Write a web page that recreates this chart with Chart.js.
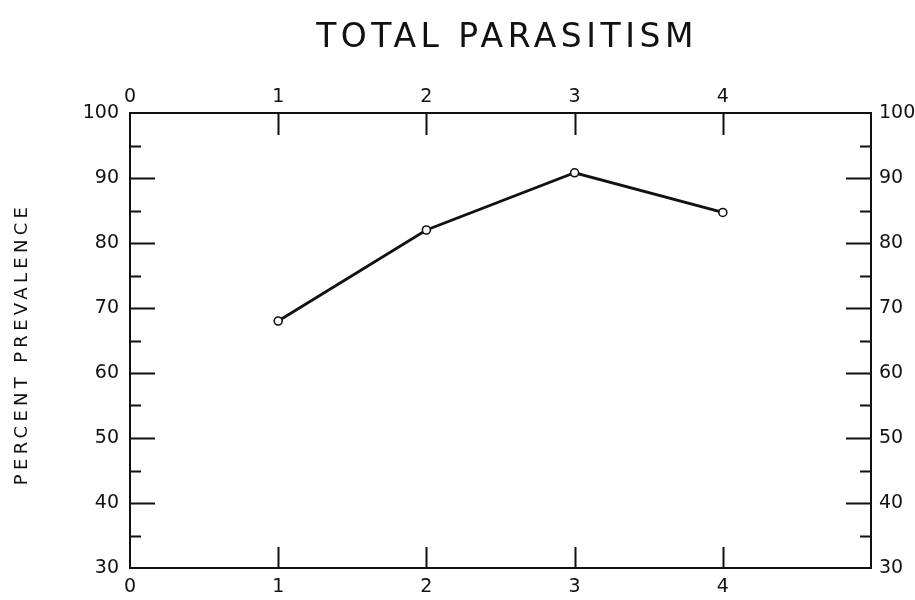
<!DOCTYPE html>
<html>
<head>
<meta charset="utf-8">
<script src="https://cdn.jsdelivr.net/npm/chart.js@4.4.1/dist/chart.umd.min.js"></script>
<style>
  html, body { margin: 0; padding: 0; background: #fff; }
  #wrap { width: 915px; height: 600px; }
</style>
</head>
<body>
<div id="wrap"><canvas id="parasiteChart" width="915" height="600"></canvas></div>
<script>
const titleText = "TOTAL PARASITISM";
const yLabel = "PERCENT PREVALENCE";
const groups = [1, 2, 3, 4];
const prevalence = [68, 82, 90.8, 84.7];
const xTickLabels = [0, 1, 2, 3, 4];
const yTickLabels = [30, 40, 50, 60, 70, 80, 90, 100];

const ink = '#111';
const fontFamily = '"DejaVu Sans", sans-serif';

// hand-drawn style ticks pointing into the frame, plus spaced-out titles
const frameTicks = {
  id: 'frameTicks',
  afterDraw(chart) {
    const c = chart.ctx;
    const a = chart.chartArea;
    const ys = chart.scales.y;
    const xs = chart.scales.x;
    c.save();
    c.strokeStyle = ink;
    c.lineWidth = 2;
    c.beginPath();
    for (let v = yTickLabels[0] + 5; v < yTickLabels[yTickLabels.length - 1]; v += 5) {
      const py = Math.round(ys.getPixelForValue(v)) + 0.5;
      const len = v % 10 === 0 ? 25 : 11;
      c.moveTo(a.left, py); c.lineTo(a.left + len, py);
      c.moveTo(a.right, py); c.lineTo(a.right - len, py);
    }
    xTickLabels.slice(1).forEach(v => {
      const px = Math.round(xs.getPixelForValue(v)) + 0.5;
      c.moveTo(px, a.top); c.lineTo(px, a.top + 22);
      c.moveTo(px, a.bottom); c.lineTo(px, a.bottom - 21);
    });
    c.stroke();

    c.fillStyle = ink;
    c.textAlign = 'center';
    c.textBaseline = 'middle';
    c.letterSpacing = '4.5px';
    c.font = '33px ' + fontFamily;
    c.fillText(titleText, 507, 38);

    c.translate(22, 346);
    c.rotate(-Math.PI / 2);
    c.letterSpacing = '4.3px';
    c.font = '18px ' + fontFamily;
    c.fillText(yLabel, 2, 0);
    c.restore();
  }
};

const tickFont = { family: fontFamily, size: 19 };
const border = { display: true, color: ink, width: 2 };

new Chart(document.getElementById('parasiteChart'), {
  type: 'line',
  data: {
    datasets: [{
      data: groups.map((g, i) => ({ x: g, y: prevalence[i] })),
      borderColor: ink,
      borderWidth: 2.8,
      pointRadius: 4,
      pointBorderWidth: 1.6,
      pointBackgroundColor: '#fff',
      pointBorderColor: ink,
      tension: 0
    }]
  },
  options: {
    responsive: false,
    animation: false,
    layout: { padding: 0 },
    plugins: { legend: { display: false }, tooltip: { enabled: false } },
    scales: {
      x: {
        type: 'linear', position: 'bottom', min: 0, max: 5,
        grid: { display: false, drawTicks: false },
        border: border,
        afterFit: s => { s.height = 32; },
        ticks: {
          stepSize: 1, padding: 8, color: ink, font: tickFont,
          callback: v => xTickLabels.includes(v) ? v : ''
        }
      },
      x2: {
        type: 'linear', position: 'top', min: 0, max: 5,
        grid: { display: false, drawTicks: false },
        border: border,
        afterFit: s => { s.height = 113; },
        ticks: {
          stepSize: 1, padding: 5, color: ink, font: tickFont,
          callback: v => xTickLabels.includes(v) ? v : ''
        }
      },
      y: {
        position: 'left', min: 30, max: 100,
        grid: { display: false, drawTicks: false },
        border: border,
        afterFit: s => { s.width = 130; },
        ticks: {
          stepSize: 10, padding: 11, color: ink, font: tickFont,
          callback: v => yTickLabels.includes(v) ? v : ''
        }
      },
      y2: {
        position: 'right', min: 30, max: 100,
        grid: { display: false, drawTicks: false },
        border: border,
        afterFit: s => { s.width = 44; },
        ticks: {
          stepSize: 10, padding: 8, color: ink, font: tickFont,
          callback: v => yTickLabels.includes(v) ? v : ''
        }
      }
    }
  },
  plugins: [frameTicks]
});
</script>
</body>
</html>
